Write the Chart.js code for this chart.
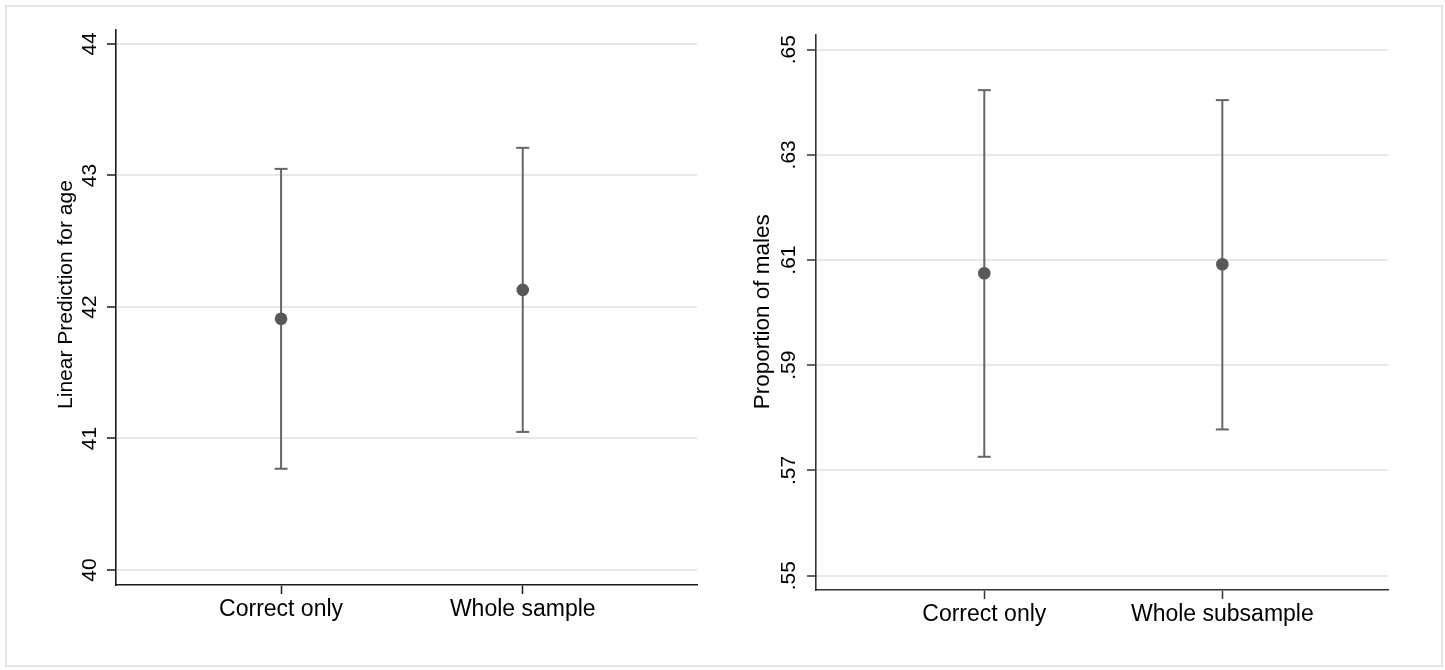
<!DOCTYPE html>
<html>
<head>
<meta charset="utf-8">
<script src="https://cdn.jsdelivr.net/npm/chart.js@4.4.1/dist/chart.umd.min.js"></script>
<style>
  html, body { margin: 0; padding: 0; background: #fff; }
  #wrap { position: relative; width: 1445px; height: 670px; overflow: hidden; }
  #frame { position: absolute; left: 5px; top: 5px; width: 1434px; height: 658px; border: 2px solid #e6e6e6; }
  canvas { position: absolute; top: 0; }
  #c1 { left: 0; }
  #c2 { left: 722px; }
</style>
</head>
<body>
<div id="wrap">
  <div id="frame"></div>
  <canvas id="c1" width="722" height="670"></canvas>
  <canvas id="c2" width="723" height="670"></canvas>
</div>
<script>
// ---- data ----
const ageCategories = ['Correct only', 'Whole sample'];
const ageMean = [41.91, 42.13];
const ageLow = [40.77, 41.05];
const ageHigh = [43.05, 43.21];
const ageTicks = [40, 41, 42, 43, 44];
const ageTickLabels = ['40', '41', '42', '43', '44'];

const maleCategories = ['Correct only', 'Whole subsample'];
const maleMean = [0.6075, 0.6092];
const maleLow = [0.5726, 0.5778];
const maleHigh = [0.6423, 0.6404];
const maleTicks = [0.55, 0.57, 0.59, 0.61, 0.63, 0.65];
const maleTickLabels = ['.55', '.57', '.59', '.61', '.63', '.65'];

const FONT = "'Liberation Sans', Arial, Helvetica, sans-serif";
const LINE_COLOR = '#666666';
const MARK_COLOR = '#585858';

function buildDatasets(mean, low, high) {
  const ds = [];
  for (let i = 0; i < mean.length; i++) {
    ds.push({
      data: [{ x: i + 1, y: low[i] }, { x: i + 1, y: high[i] }],
      showLine: true,
      borderColor: LINE_COLOR,
      borderWidth: 2,
      pointStyle: 'line',
      pointRadius: 6.5,
      pointHoverRadius: 6.5,
      pointBorderColor: LINE_COLOR,
      pointBorderWidth: 2,
      order: 2
    });
  }
  ds.push({
    data: mean.map((v, i) => ({ x: i + 1, y: v })),
    showLine: false,
    pointStyle: 'circle',
    pointRadius: 6.3,
    pointHoverRadius: 6.3,
    pointBackgroundColor: MARK_COLOR,
    pointBorderWidth: 0,
    order: 1
  });
  return ds;
}

// draws the y-axis title (rotated) at a given spot, as canvas text
const yTitlePlugin = {
  id: 'yTitle',
  afterDraw(chart, args, opts) {
    const ctx = chart.ctx;
    ctx.save();
    ctx.translate(opts.x, opts.y);
    ctx.rotate(-Math.PI / 2);
    ctx.font = opts.size + 'px ' + FONT;
    ctx.fillStyle = '#000';
    ctx.textAlign = 'center';
    ctx.textBaseline = 'middle';
    ctx.fillText(opts.text, 0, 0);
    ctx.restore();
  }
};

function makeChart(id, cfg) {
  new Chart(document.getElementById(id), {
    type: 'scatter',
    data: { datasets: buildDatasets(cfg.mean, cfg.low, cfg.high) },
    plugins: [yTitlePlugin],
    options: {
      responsive: false,
      animation: false,
      events: [],
      layout: { padding: cfg.padding },
      plugins: {
        legend: { display: false },
        tooltip: { enabled: false },
        yTitle: { text: cfg.yTitle, x: cfg.titleX, y: cfg.titleY, size: cfg.titleFont }
      },
      scales: {
        x: {
          type: 'linear',
          min: cfg.xMin,
          max: cfg.xMax,
          afterBuildTicks: (axis) => { axis.ticks = cfg.categories.map((c, i) => ({ value: i + 1 })); },
          afterFit: (axis) => { axis.height = 60; },
          ticks: {
            callback: (v) => cfg.categories[Math.round(v) - 1],
            font: { family: FONT, size: cfg.xFont },
            color: '#000',
            padding: 2,
            maxRotation: 0,
            minRotation: 0,
            autoSkip: false
          },
          grid: { display: true, drawOnChartArea: false, drawTicks: true, tickLength: 9, tickColor: cfg.axisColor, tickWidth: 1.5 },
          border: { display: true, color: cfg.axisColor, width: 1.6 }
        },
        y: {
          type: 'linear',
          min: cfg.yMin,
          max: cfg.yMax,
          afterBuildTicks: (axis) => { axis.ticks = cfg.yTicks.map(v => ({ value: v })); },
          afterFit: (axis) => { axis.width = cfg.yWidth; },
          ticks: {
            callback: (v) => { const k = cfg.yTicks.findIndex(t => Math.abs(t - v) < 1e-9); return k >= 0 ? cfg.yTickLabels[k] : ''; },
            font: { family: FONT, size: cfg.yFont },
            color: '#000',
            minRotation: 90,
            maxRotation: 90,
            crossAlign: 'center',
            padding: cfg.yPad,
            autoSkip: false
          },
          grid: { display: true, drawOnChartArea: true, color: '#e8e8e8', lineWidth: 2, drawTicks: true, tickLength: 9, tickColor: cfg.axisColor, tickWidth: 1.5 },
          border: { display: true, color: cfg.axisColor, width: 1.6 },
          title: { display: false }
        }
      }
    }
  });
}

makeChart('c1', {
  categories: ageCategories, mean: ageMean, low: ageLow, high: ageHigh,
  yTicks: ageTicks, yTickLabels: ageTickLabels,
  yMin: 39.886, yMax: 44.106, xMin: 0.317, xMax: 2.721,
  yTitle: 'Linear Prediction for age', titleX: 66, titleY: 294.5, titleFont: 21,
  padding: { left: 53, right: 25, top: 30, bottom: 25 },
  yWidth: 63, yPad: 5, yFont: 21, xFont: 23,
  axisColor: '#1a1a1a'
});

makeChart('c2', {
  categories: maleCategories, mean: maleMean, low: maleLow, high: maleHigh,
  yTicks: maleTicks, yTickLabels: maleTickLabels,
  yMin: 0.54728, yMax: 0.65278, xMin: 0.293, xMax: 2.696,
  yTitle: 'Proportion of males', titleX: 41, titleY: 311.7, titleFont: 22.5,
  padding: { left: 28, right: 57, top: 35, bottom: 20 },
  yWidth: 66, yPad: 3, yFont: 21, xFont: 23,
  axisColor: '#333333'
});
</script>
</body>
</html>
